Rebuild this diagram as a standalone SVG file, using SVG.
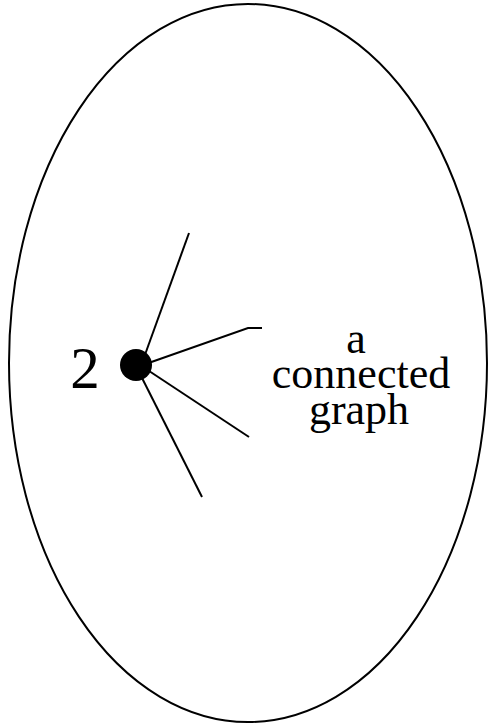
<svg xmlns="http://www.w3.org/2000/svg" width="494" height="727" viewBox="0 0 494 727">
<style>
.ln{stroke:#000;stroke-width:2;fill:none;stroke-linecap:butt}
.t{font-family:"Liberation Serif","Times New Roman",serif;fill:#000}
.lb{font-size:44px;text-anchor:middle}
</style>
<rect width="494" height="727" fill="#fff"/>
<g id="region">
<ellipse cx="248" cy="363" rx="239" ry="359" class="ln"/>
</g>
<g id="connectors">
<path class="ln" d="M143.8,358 L189,233"/>
<path class="ln" d="M140,366 L248,328 L262,328"/>
<path class="ln" d="M140,365 L249,437"/>
<path class="ln" d="M138,370 L202,497"/>
</g>
<g id="vertex">
<circle cx="136" cy="365" r="16" fill="#000"/>
<text class="t" x="85" y="388" font-size="59" text-anchor="middle">2</text>
</g>
<g id="label">
<text class="t lb" x="356" y="353">a</text>
<text class="t lb" x="361" y="388">connected</text>
<text class="t lb" x="359" y="424">graph</text>
</g>
</svg>
